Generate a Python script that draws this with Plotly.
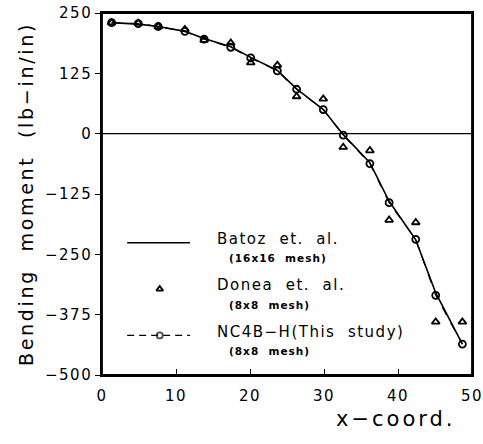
import plotly.graph_objects as go

# x positions (in) of sampling points
x_pts = [1.3, 4.9, 7.6, 11.2, 13.8, 17.4, 20.1, 23.7, 26.3, 29.9, 32.6, 36.2, 38.8, 42.4, 45.1, 48.7]
# Batoz et. al. (16x16 mesh) - solid line
batoz = [230, 227, 222, 212, 197, 180, 158, 131, 93, 50, -2, -60, -140, -220, -330, -436]
# Donea et. al. (8x8 mesh) - triangles
donea = [230, 229, 222, 216, 194, 188, 147, 142, 77, 72, -28, -35, -179, -184, -390, -390]
# NC4B-H (This study, 8x8 mesh) - dashed line with circles
nc4bh = [230, 228, 222, 212, 196, 179, 157, 130, 92, 50, -3, -62, -143, -219, -335, -436]

x_ticks = [0, 10, 20, 30, 40, 50]
y_ticks = [250, 125, 0, -125, -250, -375, -500]

FONT = "DejaVu Sans"
LS = "letter-spacing:1.5px"

def sp(t, ls=LS):
    return f'<span style="{ls}">{t}</span>'

fig = go.Figure()
fig.add_trace(go.Scatter(x=x_pts, y=batoz, mode="lines",
                         line=dict(color="black", width=1.6), showlegend=False))
fig.add_trace(go.Scatter(x=x_pts, y=nc4bh, mode="lines+markers",
                         line=dict(color="black", width=1.2, dash="dash"),
                         marker=dict(symbol="circle-open", size=7, color="black", line=dict(width=1.8)),
                         showlegend=False))
fig.add_trace(go.Scatter(x=x_pts, y=donea, mode="markers",
                         marker=dict(symbol="triangle-up-open", size=7, color="black", line=dict(width=1.8)),
                         showlegend=False))

# legend samples
fig.add_trace(go.Scatter(x=[3.4, 11.9], y=[-226, -226], mode="lines",
                         line=dict(color="black", width=1.3), showlegend=False, hoverinfo="skip"))
fig.add_trace(go.Scatter(x=[7.8], y=[-322], mode="markers",
                         marker=dict(symbol="triangle-up-open", size=6, color="black", line=dict(width=1.8)),
                         showlegend=False, hoverinfo="skip"))
fig.add_trace(go.Scatter(x=[3.4, 7.8, 11.9], y=[-418, -418, -418], mode="lines+markers",
                         line=dict(color="black", width=1.2, dash="7px,5px"),
                         marker=dict(symbol=["circle", "circle-open", "circle"], size=[0, 6, 0], color="black",
                                     line=dict(width=1.8)),
                         showlegend=False, hoverinfo="skip"))

legend_items = [
    ("Batoz  et.  al.", "(16x16  mesh)", -226),
    ("Donea  et.  al.", "(8x8  mesh)", -322),
    ("NC4B−H(This  study)", "(8x8  mesh)", -418),
]
for main, sub, yv in legend_items:
    fig.add_annotation(x=15.3, y=yv + 8, text=sp(main), showarrow=False, xanchor="left", yanchor="middle",
                       font=dict(family=FONT, size=15, color="black"))
    fig.add_annotation(x=16.9, y=yv - 32, text=sp("<b>" + sub + "</b>", "letter-spacing:1px"), showarrow=False,
                       xanchor="left", yanchor="middle",
                       font=dict(family=FONT, size=10.5, color="black"))

fig.add_hline(y=0, line=dict(color="black", width=1.3))
# plot frame
fig.add_shape(type="rect", xref="paper", yref="paper", x0=0, x1=1, y0=0, y1=1,
              line=dict(color="black", width=1.8), layer="above")

fig.update_xaxes(range=[0, 50], tickvals=x_ticks, ticktext=[sp(str(v)) for v in x_ticks],
                 ticks="inside", ticklen=6, tickwidth=1.3, tickcolor="black",
                 showline=True, linecolor="black", linewidth=1.6, mirror=True,
                 showgrid=False, zeroline=False, automargin=False, ticklabeloverflow="allow",
                 ticklabelstandoff=6,
                 tickfont=dict(family=FONT, size=15, color="black"))
fig.update_yaxes(range=[-500, 250], tickvals=y_ticks,
                 ticktext=[sp(str(v).replace("-", "−")) for v in y_ticks],
                 ticks="outside", ticklen=5, tickwidth=1.3, tickcolor="black",
                 showline=True, linecolor="black", linewidth=1.6, mirror=True,
                 showgrid=False, zeroline=False, automargin=False, ticklabeloverflow="allow",
                 tickfont=dict(family=FONT, size=15, color="black"),
                 title=dict(text=sp("Bending  moment  (lb−in/in)", "letter-spacing:2.7px"),
                            font=dict(family=FONT, size=19, color="black"), standoff=6))

fig.add_annotation(x=0.962, xref="paper", y=-0.1215, yref="paper", text=sp("x−coord.", "letter-spacing:3px"),
                   showarrow=False, xanchor="right", yanchor="middle",
                   font=dict(family=FONT, size=21, color="black"))

fig.update_layout(width=483, height=444, margin=dict(l=102, r=11, t=13, b=69),
                  plot_bgcolor="white", paper_bgcolor="white", showlegend=False)

# remove the default page margin so the figure fills the window exactly
fig.write_html("out.html", config={"displayModeBar": False},
               post_script="document.body.style.margin='0';document.body.style.overflow='hidden';")
